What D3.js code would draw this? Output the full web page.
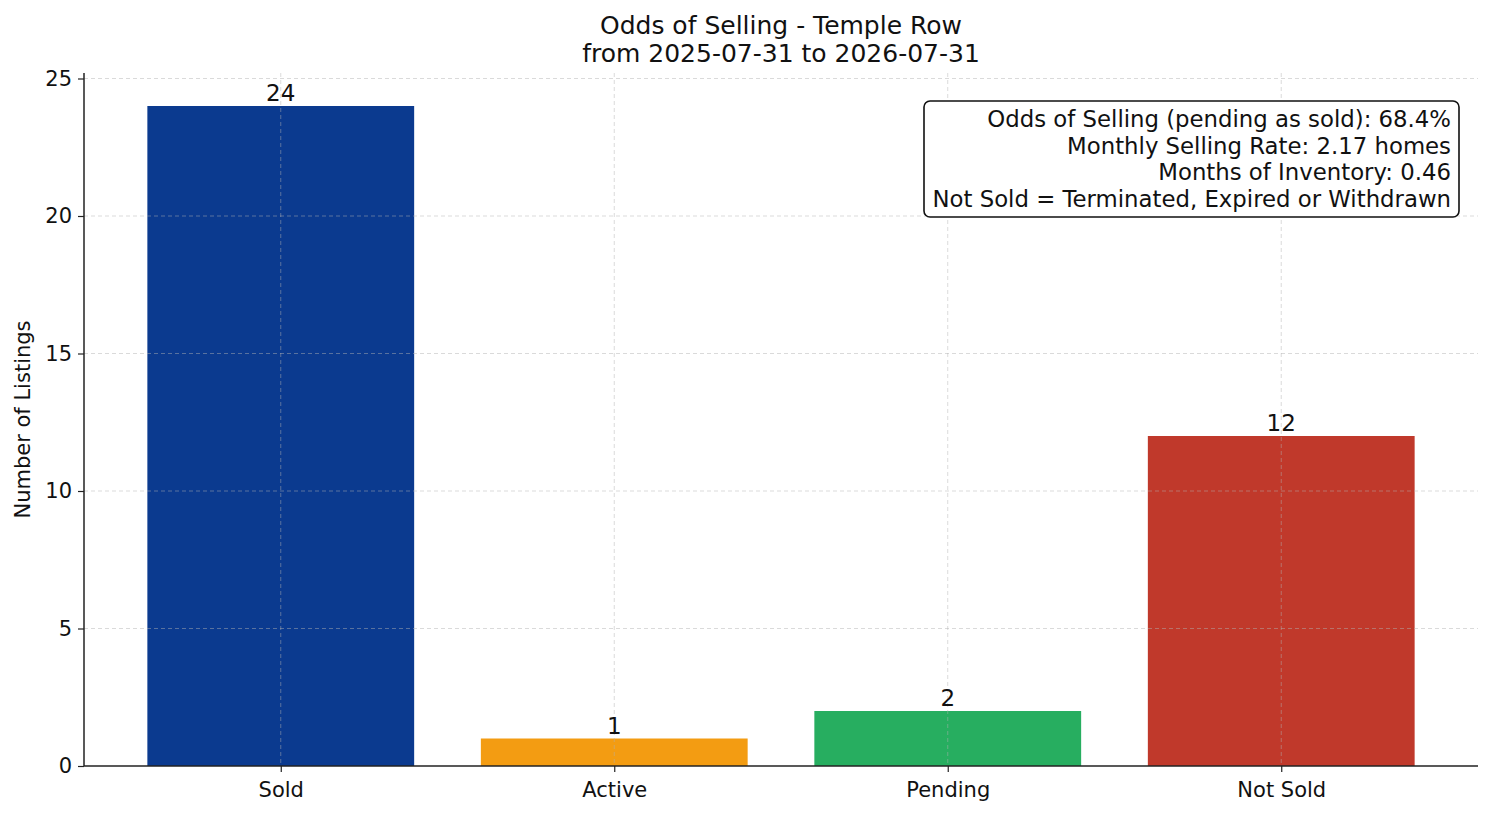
<!DOCTYPE html>
<html>
<head>
<meta charset="utf-8">
<script src="https://cdn.jsdelivr.net/npm/d3@7"></script>
<style>
  body { margin: 0; background: #fff; }
  svg { font-family: "DejaVu Sans", sans-serif; }
  .grid line { stroke: #b0b0b0; stroke-opacity: 0.6; stroke-dasharray: 4,3; stroke-width: 0.8; }
</style>
</head>
<body>
<svg></svg>
<script>
// DATA
const CATEGORIES = ["Sold", "Active", "Pending", "Not Sold"];
const COUNTS = [24, 1, 2, 12];
const BAR_COLORS = ["#0b3a8f", "#f39c12", "#27ae60", "#c0392b"];
const Y_TICKS = [0, 5, 10, 15, 20, 25];
const TITLE_LINES = ["Odds of Selling - Temple Row", "from 2025-07-31 to 2026-07-31"];
const INFO_LINES = [
  "Odds of Selling (pending as sold): 68.4%",
  "Monthly Selling Rate: 2.17 homes",
  "Months of Inventory: 0.46",
  "Not Sold = Terminated, Expired or Withdrawn"
];

// LAYOUT
const WIDTH = 1494;
const HEIGHT = 816;
const MARGINS = {top: 73, right: 16, bottom: 50, left: 84};
const BAR_WIDTH = 0.8;

const svg = d3.select("svg").attr("width", WIDTH).attr("height", HEIGHT);
const plotW = WIDTH - MARGINS.left - MARGINS.right;
const plotH = HEIGHT - MARGINS.top - MARGINS.bottom;

const chart = svg.append("g").attr("transform", `translate(${MARGINS.left},${MARGINS.top})`);

// x is continuous in category index, like matplotlib with 5% margins
const n = CATEGORIES.length;
const pad = (n - 1 + BAR_WIDTH) * 0.05;
const x = d3.scaleLinear()
  .domain([-BAR_WIDTH / 2 - pad, n - 1 + BAR_WIDTH / 2 + pad])
  .range([0, plotW]);
const y = d3.scaleLinear()
  .domain([0, d3.max(COUNTS) * 1.05])
  .range([plotH, 0]);

// bars first, grid on top
chart.selectAll(".bar")
  .data(COUNTS)
  .enter()
  .append("rect")
  .attr("class", "bar")
  .attr("x", (d, i) => x(i - BAR_WIDTH / 2))
  .attr("width", x(BAR_WIDTH) - x(0))
  .attr("y", d => y(d))
  .attr("height", d => y(0) - y(d))
  .style("fill", (d, i) => BAR_COLORS[i]);

const grid = chart.append("g").attr("class", "grid");
grid.selectAll(".gy")
  .data(Y_TICKS.filter(t => t > 0))
  .enter()
  .append("line")
  .attr("x1", 0).attr("x2", plotW)
  .attr("y1", d => y(d)).attr("y2", d => y(d));
grid.selectAll(".gx")
  .data(CATEGORIES)
  .enter()
  .append("line")
  .attr("x1", (d, i) => x(i)).attr("x2", (d, i) => x(i))
  .attr("y1", 0).attr("y2", plotH);

// value labels
chart.selectAll(".val")
  .data(COUNTS)
  .enter()
  .append("text")
  .attr("x", (d, i) => x(i))
  .attr("y", d => y(d) - 5)
  .attr("text-anchor", "middle")
  .style("font-size", "23px")
  .style("fill", "#111")
  .text(d => d);

// axes
const yAxis = chart.append("g")
  .call(d3.axisLeft(y).tickValues(Y_TICKS).tickSize(6).tickPadding(6));
const xAxis = chart.append("g")
  .attr("transform", `translate(0,${plotH})`)
  .call(d3.axisBottom(x).tickValues(d3.range(n)).tickFormat(i => CATEGORIES[i]).tickSize(6).tickPadding(10));
[yAxis, xAxis].forEach(a => {
  a.selectAll("text").style("font-size", "21px").style("fill", "#111").style("font-family", "DejaVu Sans");
  a.selectAll("line").style("stroke", "#222").style("stroke-width", 1.2);
  a.select(".domain").style("stroke", "#222").style("stroke-width", 1.5);
});
// plain spines without end caps
yAxis.select(".domain").attr("d", `M0,0V${plotH}`);
xAxis.select(".domain").attr("d", `M0,0H${plotW}`);

// y label
svg.append("text")
  .attr("transform", `translate(23,${MARGINS.top + plotH / 2}) rotate(-90)`)
  .attr("text-anchor", "middle")
  .attr("dy", "0.35em")
  .style("font-size", "21px")
  .style("fill", "#111")
  .text("Number of Listings");

// title
svg.selectAll(".title")
  .data(TITLE_LINES)
  .enter()
  .append("text")
  .attr("x", MARGINS.left + plotW / 2)
  .attr("y", (d, i) => 25 + i * 28)
  .attr("dy", "0.35em")
  .attr("text-anchor", "middle")
  .style("font-size", "25px")
  .style("fill", "#111")
  .text(d => d);

// info box
const box = svg.append("g");
box.append("rect")
  .attr("x", 924).attr("y", 101)
  .attr("width", 535).attr("height", 116)
  .attr("rx", 6)
  .style("fill", "#fff")
  .style("stroke", "#111")
  .style("stroke-width", 1.6);
box.selectAll("text")
  .data(INFO_LINES)
  .enter()
  .append("text")
  .attr("x", 1451)
  .attr("y", (d, i) => 119 + i * 26.7)
  .attr("dy", "0.35em")
  .attr("text-anchor", "end")
  .style("font-size", "22.8px")
  .style("fill", "#111")
  .text(d => d);
</script>
</body>
</html>
